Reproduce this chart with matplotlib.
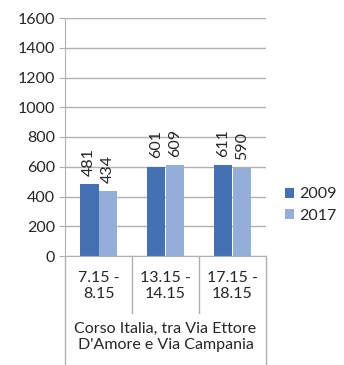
import matplotlib.pyplot as plt
import matplotlib.transforms as mtransforms
import numpy as np

plt.rcParams['font.family'] = ['Lato', 'DejaVu Sans']

categories = ['7.15 -\n8.15', '13.15 -\n14.15', '17.15 -\n18.15']
group_label = "Corso Italia, tra Via Ettore\nD'Amore e Via Campania"
series_names = ['2009', '2017']
values_2009 = [481, 601, 611]
values_2017 = [434, 609, 590]
yticks = [0, 200, 400, 600, 800, 1000, 1200, 1400, 1600]

colors = ['#4371b3', '#92aed9']
grid_col = '#b0b0b0'
text_col = '#262626'
fs = 11.5

W, H = 344, 365
fig = plt.figure(figsize=(W / 100, H / 100), dpi=100)
ax = fig.add_axes([65 / W, 1 - 256 / H, (266 - 65) / W, (256 - 18) / H])

x = np.arange(len(categories))
bw = 0.275
for i, (vals, name) in enumerate(zip([values_2009, values_2017], series_names)):
    pos = x + (i - 0.5) * bw
    ax.bar(pos, vals, width=bw, color=colors[i], label=name, zorder=2)
    for xp, v in zip(pos, vals):
        ax.annotate(str(v), (xp, v), xytext=(0, 6), textcoords='offset points',
                    rotation=90, ha='center', va='bottom', fontsize=fs, color=text_col)

ax.set_xlim(-0.5, 2.5)
ax.set_ylim(0, 1600)
ax.set_yticks(yticks)
ax.tick_params(axis='y', length=4, color=grid_col, labelsize=fs, labelcolor=text_col, pad=3)
ax.set_xticks([])
ax.yaxis.grid(True, color=grid_col, linewidth=1)
ax.set_axisbelow(True)
for s in ['top', 'right']:
    ax.spines[s].set_visible(False)
ax.spines['left'].set_color(grid_col)
ax.spines['bottom'].set_color(grid_col)

# category table below the axis
trans = mtransforms.blended_transform_factory(ax.transData, ax.transAxes)
px = 1 / (256 - 18)
for b in [-0.5, 0.5, 1.5, 2.5]:
    bottom = -(313 - 256) * px if b in (0.5, 1.5) else -(366 - 256) * px
    ax.plot([b, b], [0, bottom], transform=trans, color=grid_col, lw=1, clip_on=False)
for xi, lab in zip(x, categories):
    ax.text(xi, -(286 - 256) * px, lab, transform=trans, ha='center', va='center',
            fontsize=fs, color=text_col, linespacing=1.25)
ax.text(1, -(337 - 256) * px, group_label, transform=trans, ha='center', va='center',
        fontsize=fs, color=text_col, linespacing=1.25)

ax.legend(loc='center left', bbox_to_anchor=(279 / W, 1 - 205 / H), bbox_transform=fig.transFigure,
          frameon=False, handlelength=0.55, handleheight=0.55, handletextpad=0.3,
          labelspacing=0.45, fontsize=fs, labelcolor=text_col, borderaxespad=0)

fig.savefig('out.png', dpi=100)
